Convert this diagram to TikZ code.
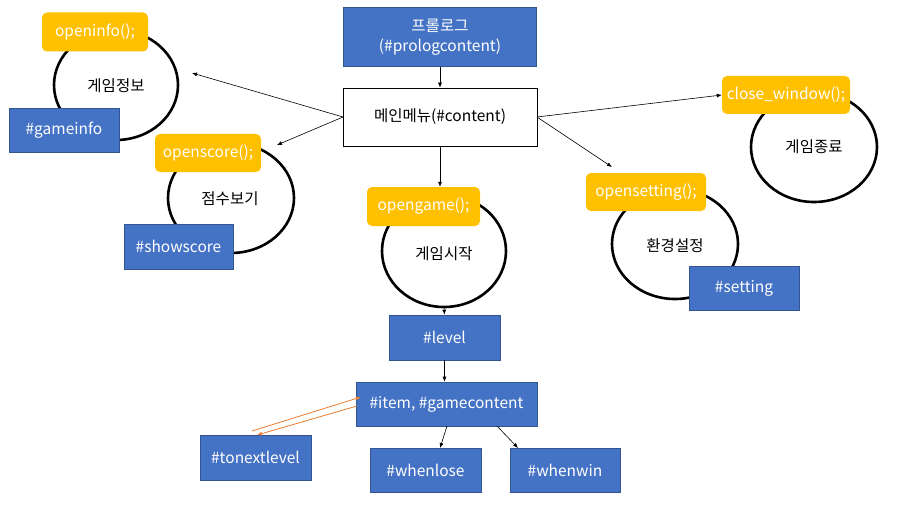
\documentclass[tikz,border=0pt]{standalone}
\usepackage{fontspec}
\setmainfont{Noto Sans CJK KR}
\usetikzlibrary{arrows.meta}
\definecolor{bblue}{HTML}{4472C4}
\definecolor{byellow}{HTML}{FFC000}
\definecolor{borange}{HTML}{ED7D31}
\begin{document}
\begin{tikzpicture}[x=1pt,y=-1pt,
  every node/.style={font=\fontsize{15.5}{20}\selectfont, inner sep=0pt},
  bluebox/.style={fill=bblue, draw=bblue!75!black, line width=0.6pt, text=white, align=center},
  ybox/.style={fill=byellow, rounded corners=5pt, text=white},
  arr/.style={-{Latex[length=5pt,width=4pt]}, line width=0.6pt, draw=black},
  oarr/.style={-{Latex[length=5pt,width=4pt]}, line width=0.8pt, draw=borange}
]
\useasboundingbox (0,0) rectangle (902,508);
\fill[white] (0,0) rectangle (902,508);

% rings
\draw[line width=2.6pt] (116,85) ellipse [x radius=62, y radius=55];
\node (ginfo) at (116,86) {게임정보};
\draw[line width=2.6pt] (231,198) ellipse [x radius=63, y radius=55];
\node (gscore) at (230,199) {점수보기};
\draw[line width=2.6pt] (444,251) ellipse [x radius=62, y radius=56];
\node (ggame) at (444,254) {게임시작};
\coordinate (gbottom) at (444,307);
\draw[line width=2.6pt] (814,147) ellipse [x radius=63, y radius=55];
\node (gclose) at (814,147) {게임종료};
\draw[line width=2.6pt] (675,244) ellipse [x radius=63, y radius=55];
\node (gset) at (675,246) {환경설정};

% boxes
\node[bluebox, minimum width=193pt, minimum height=59pt] (prolog) at (440,37) {프롤로그\\(\#prologcontent)};
\node[draw=black, line width=0.6pt, fill=white, minimum width=194pt, minimum height=58pt] (main) at (440,117) {메인메뉴(\#content)};
\node[ybox, minimum width=113pt, minimum height=39pt] (opengame) at (423.5,206.5) {opengame();};
\node[bluebox, minimum width=111pt, minimum height=45pt] (level) at (444.5,337.5) {\#level};
\node[bluebox, minimum width=181pt, minimum height=44pt] (item) at (446.5,404) {\#item, \#gamecontent};
\node[bluebox, minimum width=111pt, minimum height=45pt] (tonext) at (255.5,457.5) {\#tonextlevel};
\node[bluebox, minimum width=111pt, minimum height=44pt] (lose) at (425.5,470) {\#whenlose};
\node[bluebox, minimum width=110pt, minimum height=44pt] (win) at (565,470) {\#whenwin};
\node[ybox, minimum width=106pt, minimum height=39pt] (openinfo) at (95,32) {openinfo();};
\node[bluebox, minimum width=110pt, minimum height=44pt] (gameinfo) at (64,130) {\#gameinfo};
\node[ybox, minimum width=106pt, minimum height=38pt] (openscore) at (208,153) {openscore();};
\node[bluebox, minimum width=109pt, minimum height=45pt] (showscore) at (178.5,246.5) {\#showscore};
\node[ybox, minimum width=128pt, minimum height=38pt] (closew) at (786,95) {close\_window();};
\node[ybox, minimum width=120pt, minimum height=38pt] (openset) at (646,192) {opensetting();};
\node[bluebox, minimum width=110pt, minimum height=44pt] (setting) at (744,288) {\#setting};

% connectors
\coordinate (mL) at (343,117);
\coordinate (mR) at (537,117);
\coordinate (toinfo) at (192,73);
\coordinate (toscore) at (277,145);
\coordinate (toset) at (612,167);
\draw[arr] (prolog.south) -- (main.north);
\draw[arr] (main.south) -- (opengame.north -| main.south);
\draw[arr] (mL) -- (toinfo);
\draw[arr] (mL) -- (toscore);
\draw[arr] (mR) -- (closew.west);
\draw[arr] (mR) -- (toset);
\draw[arr] (gbottom) -- (level.north);
\draw[arr] (level.south) -- (item.north -| level.south);
\coordinate (i1) at (447,426);
\coordinate (l1) at (440,448);
\coordinate (i2) at (497,426);
\coordinate (w1) at (518,448);
\draw[arr] (i1) -- (l1);
\draw[arr] (i2) -- (w1);
\coordinate (o1s) at (252,431);
\coordinate (o1e) at (361,397);
\coordinate (o2s) at (357,406);
\coordinate (o2e) at (257,435);
\draw[oarr] (o1s) -- (o1e);
\draw[oarr] (o2s) -- (o2e);
\end{tikzpicture}
\end{document}
